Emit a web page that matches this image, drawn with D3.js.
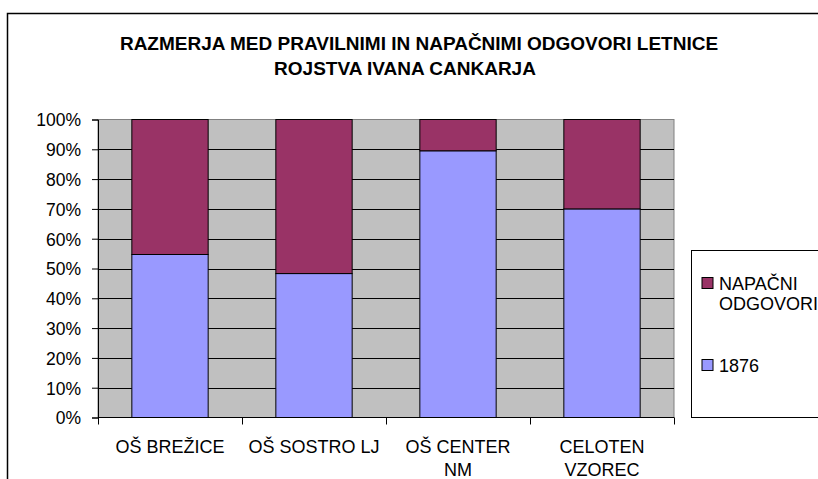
<!DOCTYPE html>
<html>
<head>
<meta charset="utf-8">
<script src="https://cdn.jsdelivr.net/npm/d3@7/dist/d3.min.js"></script>
<style>
  html, body { margin: 0; padding: 0; background: #fff; }
  svg { display: block; font-family: Arial, "Liberation Sans", sans-serif; }
</style>
</head>
<body>
<svg id="chart" width="818" height="479"></svg>
<script>
// ---- Data ----
const categories = ["OŠ BREŽICE", "OŠ SOSTRO LJ", "OŠ CENTER NM", "CELOTEN VZOREC"];
const categoryLines = [["OŠ BREŽICE"], ["OŠ SOSTRO LJ"], ["OŠ CENTER", "NM"], ["CELOTEN", "VZOREC"]];
const seriesNames = ["1876", "NAPAČNI ODGOVORI"];
const correct1876 = [54.7, 48.3, 89.5, 70.0];
const wrongAnswers = [45.3, 51.7, 10.5, 30.0];
const yTicks = [0, 10, 20, 30, 40, 50, 60, 70, 80, 90, 100];
const titleLines = ["RAZMERJA MED PRAVILNIMI IN NAPAČNIMI ODGOVORI LETNICE", "ROJSTVA IVANA CANKARJA"];

const colors = { "1876": "#9999FF", "NAPAČNI ODGOVORI": "#993366" };

const svg = d3.select("#chart");
svg.append("rect").attr("width", 818).attr("height", 479).attr("fill", "#fff");

// outer chart border (cut off on right/bottom)
svg.append("rect").attr("x", 7.5).attr("y", 13.5).attr("width", 900).attr("height", 600)
  .attr("fill", "none").attr("stroke", "#000").attr("stroke-width", 1.5);

// title
const titleG = svg.append("g").attr("font-weight", "bold").attr("font-size", 19)
  .attr("fill", "#000").attr("text-anchor", "middle");
titleG.append("text").attr("x", 419).attr("y", 50).text(titleLines[0]);
titleG.append("text").attr("x", 405).attr("y", 75).text(titleLines[1]);

// scales
const plot = { left: 98, right: 674, top: 119.5, bottom: 417.5 };
const x = d3.scaleBand().domain(categories).range([plot.left, plot.right])
  .paddingInner(0.47).paddingOuter(0.235);
const y = d3.scaleLinear().domain([0, 100]).range([plot.bottom, plot.top]);

// plot background
svg.append("rect").attr("x", plot.left).attr("y", plot.top)
  .attr("width", plot.right - plot.left).attr("height", plot.bottom - plot.top)
  .attr("fill", "#C0C0C0").attr("stroke", "#808080").attr("stroke-width", 1);

// gridlines
svg.append("g").selectAll("line").data(yTicks.filter(d => d > 0 && d < 100)).join("line")
  .attr("x1", plot.left).attr("x2", plot.right)
  .attr("y1", d => Math.round(y(d)) + 0.5).attr("y2", d => Math.round(y(d)) + 0.5)
  .attr("stroke", "#000").attr("stroke-width", 1);

// stacked bars
const rows = categories.map((c, i) => ({ cat: c, "1876": correct1876[i], "NAPAČNI ODGOVORI": wrongAnswers[i] }));
const stack = d3.stack().keys(seriesNames)(rows);
svg.append("g").selectAll("g").data(stack).join("g")
  .attr("fill", d => colors[d.key])
  .selectAll("rect").data(d => d).join("rect")
  .attr("x", d => x(d.data.cat)).attr("width", x.bandwidth())
  .attr("y", d => y(d[1])).attr("height", d => y(d[0]) - y(d[1]))
  .attr("stroke", "#000").attr("stroke-width", 1);

// y axis
const yAxis = d3.axisLeft(y).tickValues(yTicks).tickFormat(d => d + "%").tickSize(6).tickPadding(11);
const yg = svg.append("g").attr("transform", `translate(${plot.left},0)`).call(yAxis);
yg.select(".domain").attr("stroke", "#000");
yg.selectAll(".tick line").attr("stroke", "#000");
yg.selectAll(".tick text").attr("font-size", 17.5).attr("font-family", "Arial, 'Liberation Sans', sans-serif")
  .attr("fill", "#000").attr("dy", "0.36em");

// x axis line and tick marks at band boundaries
svg.append("line").attr("x1", plot.left).attr("x2", plot.right)
  .attr("y1", plot.bottom).attr("y2", plot.bottom).attr("stroke", "#000").attr("stroke-width", 1);
const bounds = categories.map(c => x(c) - x.step() * x.paddingInner() / 2);
bounds[0] = plot.left;
bounds.push(plot.right);
svg.append("g").selectAll("line").data(bounds).join("line")
  .attr("x1", d => Math.round(d) + 0.5).attr("x2", d => Math.round(d) + 0.5)
  .attr("y1", plot.bottom).attr("y2", plot.bottom + 7).attr("stroke", "#000");

// category labels
const catG = svg.append("g").attr("font-size", 18).attr("fill", "#000").attr("text-anchor", "middle");
categories.forEach((c, i) => {
  const t = catG.append("text").attr("x", x(c) + x.bandwidth() / 2).attr("y", 453);
  categoryLines[i].forEach((line, j) => {
    t.append("tspan").attr("x", x(c) + x.bandwidth() / 2).attr("dy", j === 0 ? 0 : 22.5).text(line);
  });
});

// legend
svg.append("rect").attr("x", 691.5).attr("y", 250.5).attr("width", 200).attr("height", 167)
  .attr("fill", "#fff").attr("stroke", "#000").attr("stroke-width", 1);
const legendItems = [
  { key: "NAPAČNI ODGOVORI", lines: ["NAPAČNI", "ODGOVORI"], y: 277.5 },
  { key: "1876", lines: ["1876"], y: 359.5 }
];
const lg = svg.append("g");
legendItems.forEach(it => {
  lg.append("rect").attr("x", 702).attr("y", it.y).attr("width", 11).attr("height", 11)
    .attr("fill", colors[it.key]).attr("stroke", "#000").attr("stroke-width", 1);
  const t = lg.append("text").attr("x", 719).attr("y", it.y + 12.5).attr("font-size", 18).attr("fill", "#000");
  it.lines.forEach((line, j) => t.append("tspan").attr("x", 719).attr("dy", j === 0 ? 0 : 20).text(line));
});
</script>
</body>
</html>
